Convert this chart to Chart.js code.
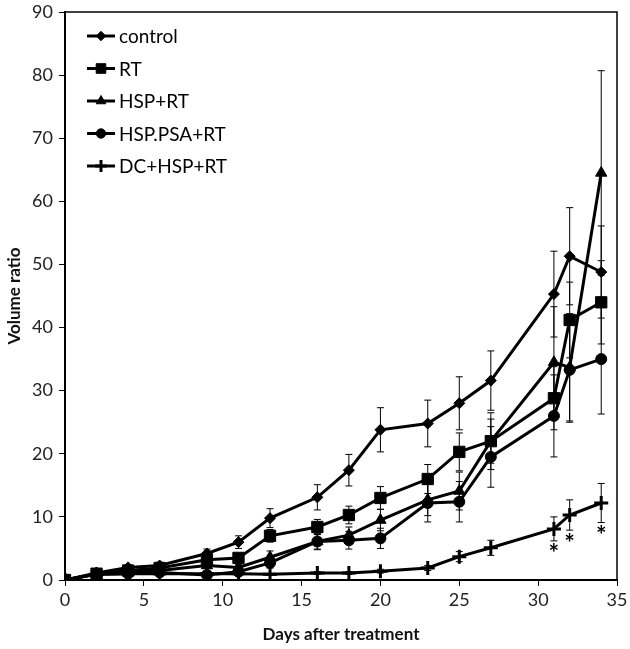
<!DOCTYPE html>
<html>
<head>
<meta charset="utf-8">
<script src="https://cdn.jsdelivr.net/npm/chart.js@4.4.1/dist/chart.umd.min.js"></script>
<style>
  html, body { margin: 0; padding: 0; background: #fff; }
  #c { display: block; }
</style>
</head>
<body>
<canvas id="c" width="630" height="649"></canvas>
<script>
// days after treatment
const days = [0, 2, 4, 6, 9, 11, 13, 16, 18, 20, 23, 25, 27, 31, 32, 34];

const control    = [0, 1.1, 2.0, 2.3, 4.2, 6.0, 9.8, 13.1, 17.4, 23.8, 24.8, 28.0, 31.6, 45.3, 51.3, 48.8];
const controlErr = [0, 0.3, 0.4, 0.5, 0.7, 1.0, 1.5, 2.0, 2.5, 3.5, 3.7, 4.2, 4.7, 6.8, 7.7, 7.3];
const rt         = [0, 1.0, 1.5, 1.9, 3.2, 3.5, 7.0, 8.4, 10.3, 13.0, 16.0, 20.3, 22.0, 28.8, 41.2, 44.0];
const rtErr      = [0, 0.3, 0.3, 0.4, 0.5, 0.7, 1.0, 1.2, 1.4, 1.8, 2.3, 3.0, 3.5, 5.0, 6.0, 6.6];
const hspRt      = [0, 1.0, 1.2, 1.5, 2.3, 2.0, 3.6, 6.1, 7.1, 9.5, 12.7, 14.1, 22.0, 34.5, 33.7, 64.5];
const hspRtErr   = [0, 0.2, 0.3, 0.3, 0.4, 0.5, 1.0, 1.2, 1.3, 1.7, 2.5, 3.0, 4.5, 8.8, 8.5, 16.2];
const psaRt      = [0, 0.9, 1.0, 1.2, 0.8, 1.3, 2.7, 6.1, 6.3, 6.6, 12.2, 12.4, 19.5, 26.0, 33.3, 35.0];
const psaRtErr   = [0, 0.2, 0.2, 0.3, 0.3, 0.4, 0.8, 1.3, 1.4, 1.6, 3.0, 3.2, 4.8, 6.5, 8.3, 8.7];
const dcRt       = [0, 0.9, 1.0, 1.0, 1.0, 1.0, 0.9, 1.1, 1.1, 1.4, 1.9, 3.7, 5.1, 8.1, 10.3, 12.2];
const dcRtErr    = [0, 0.1, 0.1, 0.1, 0.1, 0.1, 0.1, 0.2, 0.2, 0.3, 0.4, 0.8, 1.2, 1.9, 2.4, 3.1];

// significance marks (under DC+HSP+RT)
const starDays = [31, 32, 34];

const xTicks = [0, 5, 10, 15, 20, 25, 30, 35];
const yTicks = [0, 10, 20, 30, 40, 50, 60, 70, 80, 90];

const FONT = 'Lato, "Open Sans", sans-serif';

function pts(vals) {
    return days.map((d, i) => ({ x: d, y: vals[i] }));
}

function series(label, vals, errs, style, radius) {
    return {
        label: label,
        data: pts(vals),
        errs: errs,
        borderColor: '#000',
        backgroundColor: '#000',
        borderWidth: 3,
        pointStyle: style,
        pointRadius: radius,
        pointBorderWidth: style === 'cross' ? 3 : 1,
        pointBorderColor: '#000',
        pointBackgroundColor: '#000',
        tension: 0
    };
}

const datasets = [
    series('control', control, controlErr, 'rectRot', 5.5),
    series('RT', rt, rtErr, 'rect', 8),
    series('HSP+RT', hspRt, hspRtErr, 'triangle', 6.5),
    series('HSP.PSA+RT', psaRt, psaRtErr, 'circle', 5.5),
    series('DC+HSP+RT', dcRt, dcRtErr, 'cross', 7)
];

const errorBars = {
    id: 'errorBars',
    beforeDatasetsDraw(chart) {
        const { ctx, scales: { x, y } } = chart;
        ctx.save();
        ctx.strokeStyle = '#000';
        ctx.lineWidth = 1;
        chart.data.datasets.forEach(ds => {
            ds.data.forEach((p, i) => {
                const e = ds.errs[i];
                if (!e) return;
                const px = x.getPixelForValue(p.x);
                const top = y.getPixelForValue(p.y + e);
                const bot = y.getPixelForValue(Math.max(0, p.y - e));
                ctx.beginPath();
                ctx.moveTo(px, top); ctx.lineTo(px, bot);
                ctx.moveTo(px - 3.5, top); ctx.lineTo(px + 3.5, top);
                ctx.moveTo(px - 3.5, bot); ctx.lineTo(px + 3.5, bot);
                ctx.stroke();
            });
        });
        ctx.restore();
    }
};

const extras = {
    id: 'extras',
    afterDraw(chart) {
        const { ctx, chartArea: a, scales: { x, y } } = chart;
        ctx.save();
        // frame
        ctx.strokeStyle = '#000';
        ctx.lineWidth = 1.5;
        ctx.strokeRect(a.left, a.top, a.right - a.left, a.bottom - a.top);

        // stars
        const dc = chart.data.datasets[4];
        ctx.fillStyle = '#000';
        ctx.font = 'bold 25px ' + FONT;
        ctx.textAlign = 'center';
        ctx.textBaseline = 'top';
        starDays.forEach(d => {
            const i = days.indexOf(d);
            const px = x.getPixelForValue(d);
            const py = y.getPixelForValue(dc.data[i].y - dc.errs[i]);
            ctx.fillText('*', px, py + 1);
        });

        // legend
        ctx.font = '19px ' + FONT;
        ctx.textAlign = 'left';
        ctx.textBaseline = 'middle';
        chart.data.datasets.forEach((ds, k) => {
            const ly = a.top + 24 + k * 32.5;
            const lx = a.left + 22;
            ctx.strokeStyle = '#000';
            ctx.lineWidth = 3;
            ctx.beginPath();
            ctx.moveTo(lx, ly); ctx.lineTo(lx + 28, ly);
            ctx.stroke();
            if (Chart.helpers && Chart.helpers.drawPoint) {
                ctx.lineWidth = ds.pointBorderWidth;
                ctx.fillStyle = '#000';
                Chart.helpers.drawPoint(ctx, {
                    pointStyle: ds.pointStyle,
                    radius: ds.pointRadius * 0.85,
                    rotation: 0,
                    borderWidth: ds.pointBorderWidth
                }, lx + 14, ly);
            }
            ctx.fillStyle = '#000';
            ctx.fillText(ds.label, lx + 32, ly + 1);
        });
        ctx.restore();
    }
};

new Chart(document.getElementById('c'), {
    type: 'line',
    data: { datasets: datasets },
    options: {
        responsive: false,
        animation: false,
        layout: { padding: { top: 12, right: 13, left: 0, bottom: 0 } },
        plugins: {
            legend: { display: false },
            tooltip: { enabled: false }
        },
        scales: {
            x: {
                type: 'linear',
                min: 0,
                max: 35,
                afterBuildTicks: s => { s.ticks = xTicks.map(v => ({ value: v })); },
                afterFit: s => { s.height = 69; s.paddingLeft = 0; s.paddingRight = 0; },
                grid: { drawOnChartArea: false, drawTicks: true, tickLength: 6, color: '#000', lineWidth: 1 },
                border: { display: true, color: '#000', width: 2 },
                ticks: { color: '#222', font: { family: FONT, size: 18 }, padding: 3, maxRotation: 0 },
                title: { display: true, text: 'Days after treatment', color: '#111', font: { family: FONT, size: 17, weight: 'bold' }, padding: { top: 5 } }
            },
            y: {
                min: 0,
                max: 90,
                afterBuildTicks: s => { s.ticks = yTicks.map(v => ({ value: v })); },
                afterFit: s => { s.width = 65; s.paddingTop = 0; s.paddingBottom = 0; },
                grid: { drawOnChartArea: false, drawTicks: true, tickLength: 6, color: '#000', lineWidth: 1 },
                border: { display: true, color: '#000', width: 2 },
                ticks: { color: '#222', font: { family: FONT, size: 18 }, padding: 6 },
                title: { display: true, text: 'Volume ratio', color: '#111', font: { family: FONT, size: 17, weight: 'bold' }, padding: { bottom: 0 } }
            }
        }
    },
    plugins: [errorBars, extras]
});
</script>
</body>
</html>
